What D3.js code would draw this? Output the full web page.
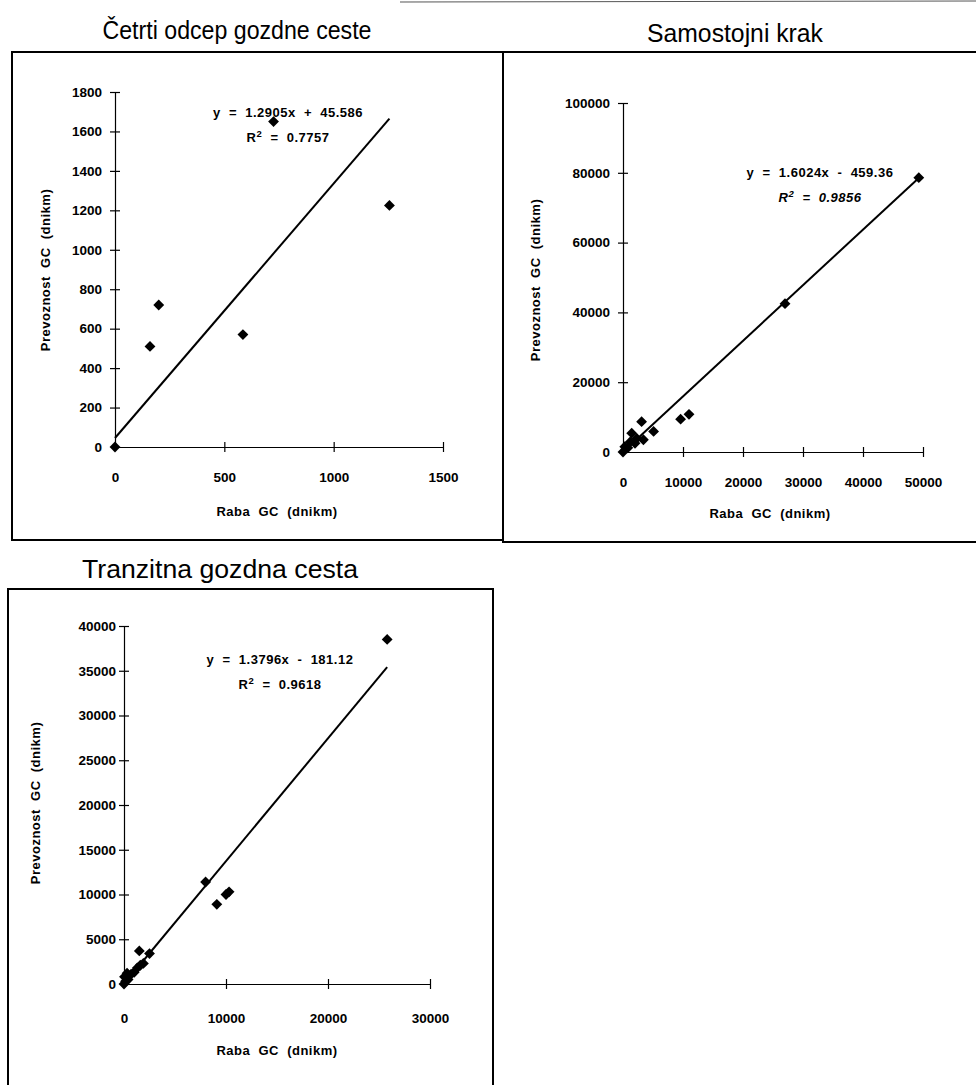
<!DOCTYPE html>
<html>
<head>
<meta charset="utf-8">
<script src="https://cdn.jsdelivr.net/npm/d3@7"></script>
<style>
  body { margin: 0; background: #fff; }
  text { font-family: "Liberation Sans", Arial, sans-serif; fill: #000; }
  .title { font-size: 26px; }
  .tick text { font-size: 13.5px; font-weight: bold; }
  .lab { font-size: 13px; font-weight: bold; white-space: pre; letter-spacing: 0.5px; }
</style>
</head>
<body>
<svg id="chart" width="976" height="1085"></svg>
<script>
// Četrti odcep gozdne ceste
const rabaOdcep = [0, 160, 200, 585, 725, 1255];
const prevOdcep = [0, 510, 720, 570, 1650, 1225];

// Samostojni krak
const rabaKrak = [0, 300, 800, 1200, 1450, 2000, 2300, 3100, 3400, 5100, 9600, 11000, 27000, 49300];
const prevKrak = [0, 1500, 1200, 2900, 5400, 2500, 3900, 8700, 3500, 5900, 9400, 10800, 42500, 78600];

// Tranzitna gozdna cesta
const rabaTranz = [0, 50, 150, 300, 400, 700, 1000, 1300, 1500, 1600, 1900, 2500, 8000, 9100, 10000, 10300, 25800];
const prevTranz = [0, 800, 300, 1200, 500, 1100, 1300, 1800, 3700, 2100, 2300, 3400, 11400, 8900, 10000, 10300, 38500];

const titles = ["Četrti odcep gozdne ceste", "Samostojni krak", "Tranzitna gozdna cesta"];
const slopes = [1.2905, 1.6024, 1.3796];
const intercepts = [45.586, -459.36, -181.12];
const eqLabels = ["y  =  1.2905x  +  45.586", "y  =  1.6024x  -  459.36", "y  =  1.3796x  -  181.12"];
const r2Labels = ["0.7757", "0.9856", "0.9618"];
const xTicks = [[0, 500, 1000, 1500], [0, 10000, 20000, 30000, 40000, 50000], [0, 10000, 20000, 30000]];
const yTicks = [
  [0, 200, 400, 600, 800, 1000, 1200, 1400, 1600, 1800],
  [0, 20000, 40000, 60000, 80000, 100000],
  [0, 5000, 10000, 15000, 20000, 25000, 30000, 35000, 40000]
];
const xLabel = "Raba  GC  (dnikm)";
const yLabel = "Prevoznost  GC  (dnikm)";

const svg = d3.select("#chart");
svg.append("rect").attr("width", 976).attr("height", 1085).attr("fill", "#fff");

// frames around the panels
const frames = [[12, 52, 503, 540], [503, 52, 990, 542], [8, 589, 493, 1095]];
frames.forEach(f => {
  svg.append("rect")
    .attr("x", f[0]).attr("y", f[1])
    .attr("width", f[2] - f[0]).attr("height", f[3] - f[1])
    .attr("fill", "none").attr("stroke", "#000").attr("stroke-width", 2);
});
svg.append("line").attr("x1", 400).attr("x2", 976).attr("y1", 2).attr("y2", 1)
  .attr("stroke", "#555").attr("stroke-width", 1);

const panels = [
  { xs: rabaOdcep, ys: prevOdcep, xr: [115, 443], yr: [447, 92], xd: 1500, yd: 1800,
    tx: 237, ty: 39, tw: 269, eq: [288, 117], ylab: [45, 270], xlab: [277, 511], xpad: 20, ypad: 8 },
  { xs: rabaKrak, ys: prevKrak, xr: [623, 923], yr: [452, 103], xd: 50000, yd: 100000,
    tx: 735, ty: 42, tw: 176, eq: [820, 177], ylab: [535, 280], xlab: [770, 513], xpad: 20, ypad: 8 },
  { xs: rabaTranz, ys: prevTranz, xr: [124, 430], yr: [984, 626], xd: 30000, yd: 40000,
    tx: 220, ty: 578, tw: 276, eq: [280, 664], ylab: [35, 803], xlab: [277, 1050], xpad: 24, ypad: 3 }
];

panels.forEach((p, i) => {
  const x = d3.scaleLinear().domain([0, p.xd]).range(p.xr);
  const y = d3.scaleLinear().domain([0, p.yd]).range(p.yr);
  const g = svg.append("g");

  g.append("text").attr("class", "title")
    .attr("x", p.tx).attr("y", p.ty).attr("text-anchor", "middle")
    .attr("textLength", p.tw).attr("lengthAdjust", "spacingAndGlyphs")
    .text(titles[i]);

  const ax = g.append("g").attr("transform", `translate(0,${p.yr[0]})`)
    .call(d3.axisBottom(x).tickValues(xTicks[i]).tickFormat(d3.format("d"))
      .tickSizeInner(5).tickSizeOuter(0).tickPadding(p.xpad));
  ax.selectAll(".tick line").attr("y1", -5);
  ax.selectAll(".tick").filter(d => d === 0).select("line").remove();

  const ay = g.append("g").attr("transform", `translate(${p.xr[0]},0)`)
    .call(d3.axisLeft(y).tickValues(yTicks[i]).tickFormat(d3.format("d"))
      .tickSizeInner(5).tickSizeOuter(0).tickPadding(p.ypad));
  ay.selectAll(".tick line").attr("x1", 5);
  ay.selectAll(".tick").filter(d => d === 0).select("line").remove();
  g.selectAll(".domain").attr("stroke-width", 1.2);
  g.selectAll(".tick line").attr("stroke-width", 1.2);

  // trend line
  const xMax = d3.max(p.xs);
  g.append("line")
    .attr("x1", x(0)).attr("y1", y(intercepts[i] > 0 ? intercepts[i] : 0))
    .attr("x2", x(xMax)).attr("y2", y(slopes[i] * xMax + intercepts[i]))
    .attr("stroke", "#000").attr("stroke-width", 2);

  g.selectAll("path.pt")
    .data(p.xs.map((v, k) => [v, p.ys[k]]))
    .join("path").attr("class", "pt")
    .attr("transform", d => `translate(${x(d[0])},${y(d[1])})`)
    .attr("d", d3.symbol(d3.symbolDiamond2, 75))
    .attr("fill", "#000");

  g.append("text").attr("class", "lab")
    .attr("x", p.eq[0]).attr("y", p.eq[1]).attr("text-anchor", "middle")
    .text(eqLabels[i]);
  const r2 = g.append("text").attr("class", "lab")
    .attr("x", p.eq[0]).attr("y", p.eq[1] + 25).attr("text-anchor", "middle")
    .style("font-style", i === 1 ? "italic" : "normal");
  r2.append("tspan").text("R");
  r2.append("tspan").attr("dy", -5).style("font-size", "9.5px").text("2");
  r2.append("tspan").attr("dy", 5).text("  =  " + r2Labels[i]);

  g.append("text").attr("class", "lab")
    .attr("transform", `translate(${p.ylab[0]},${p.ylab[1]}) rotate(-90)`)
    .attr("text-anchor", "middle").attr("dy", "0.35em")
    .text(yLabel);
  g.append("text").attr("class", "lab")
    .attr("x", p.xlab[0]).attr("y", p.xlab[1]).attr("text-anchor", "middle")
    .attr("dy", "0.35em")
    .text(xLabel);
});
</script>
</body>
</html>
